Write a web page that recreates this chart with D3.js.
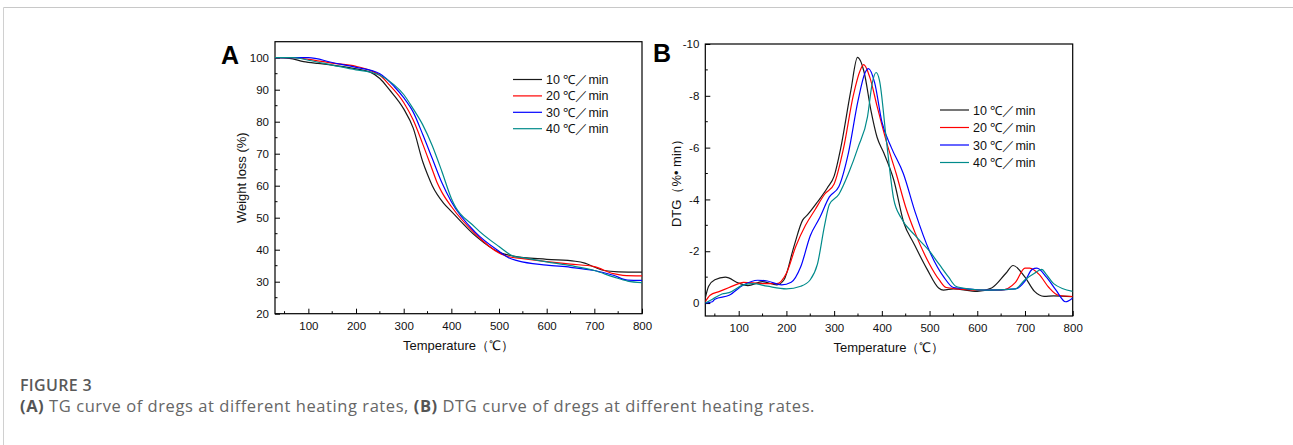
<!DOCTYPE html>
<html><head><meta charset="utf-8">
<script src="https://cdn.jsdelivr.net/npm/d3@7"></script>
<style>
body{margin:0;background:#fff;}
svg{display:block;}
</style></head>
<body>
<svg id="chart" width="1293" height="445"></svg>
<script>
const seriesNames = ["10 ℃／min","20 ℃／min","30 ℃／min","40 ℃／min"];
const seriesColors = ["#1a1a1a","#ff0000","#0000ff","#008b8b"];

// Panel A: TG (weight %) — [temperature, value]
const tg10 = [[30,100],[60,99.8],[90,98.8],[120,98.2],[150,97.7],[200,96.5],[230,95.5],[250,93.5],[270,90],[300,84],[320,78],[340,67.5],[350,63.5],[360,60],[384,54.5],[400,52],[453,44],[500,39.2],[530,38],[600,37],[660,36.4],[680,35.8],[700,34.6],[720,33.5],[750,33.1],[800,33]];
const tg20 = [[30,100],[70,100],[100,99.5],[150,98.3],[200,97.3],[230,96],[250,94.5],[270,91.5],[300,86],[320,80.5],[340,73],[360,65],[370,61],[380,58],[400,53.5],[450,45],[500,39],[520,37.8],[550,37.2],[600,36.3],[650,35.5],[700,34.7],[740,32.5],[760,32],[800,31.8]];
const tg30 = [[30,100],[70,100],[100,100],[150,98.5],[200,97],[250,95],[280,91],[300,87.5],[320,83],[340,76],[360,68.5],[380,61],[400,55],[450,45.5],[500,39.5],[520,37.5],[540,36.5],[600,35.2],[650,34.5],[700,33.5],[740,32],[770,30.5],[800,30.4]];
const tg40 = [[30,100],[70,100],[100,99.2],[150,97.7],[200,96.2],[230,95.5],[250,94.5],[280,91.5],[300,88.5],[320,84],[340,79],[360,72.5],[380,64.5],[400,56],[450,47],[500,41],[530,38],[550,37.5],[600,36.2],[650,35],[700,33.5],[740,31.5],[770,30.2],[800,29.7]];

// Panel B: DTG (%/min) — [temperature, value]
const dtg10 = [[30,-0.2],[37,-0.65],[50,-0.9],[72,-1.0],[100,-0.77],[119,-0.67],[150,-0.83],[180,-0.7],[195,-0.9],[216,-2.2],[234,-3.2],[244,-3.4],[265,-3.9],[286,-4.45],[300,-4.9],[314,-6.0],[335,-8.2],[349,-9.48],[363,-8.9],[377,-7.45],[390,-6.4],[404,-5.8],[425,-4.75],[446,-3.1],[467,-2.3],[495,-1.3],[519,-0.58],[529,-0.5],[550,-0.55],[600,-0.45],[630,-0.58],[660,-1.15],[675,-1.45],[700,-1.0],[720,-0.45],[740,-0.26],[760,-0.28],[800,-0.25]];
const dtg20 = [[30,-0.05],[40,-0.3],[60,-0.45],[80,-0.6],[100,-0.75],[110,-0.8],[150,-0.75],[180,-0.75],[200,-1.15],[220,-2.2],[240,-3.0],[260,-3.6],[280,-4.2],[300,-4.6],[320,-6.0],[340,-8.0],[355,-9.0],[362,-9.2],[375,-8.7],[390,-7.6],[410,-6.2],[430,-5.0],[450,-3.7],[470,-2.7],[500,-1.5],[520,-0.9],[535,-0.6],[560,-0.55],[600,-0.5],[650,-0.5],[680,-0.8],[700,-1.35],[710,-1.35],[730,-1.1],[750,-0.6],[770,-0.3],[800,-0.25]];
const dtg30 = [[30,0],[45,-0.05],[50,-0.15],[80,-0.3],[110,-0.7],[140,-0.88],[160,-0.85],[190,-0.7],[210,-0.8],[230,-1.4],[250,-2.6],[270,-3.3],[290,-4.1],[310,-4.5],[330,-5.8],[350,-7.8],[365,-8.9],[372,-9.05],[385,-8.5],[400,-7.0],[420,-6.0],[445,-5.0],[470,-3.5],[500,-2.0],[530,-1.0],[550,-0.6],[580,-0.55],[620,-0.5],[680,-0.55],[700,-0.85],[715,-1.3],[725,-1.35],[745,-1.0],[765,-0.5],[785,-0.05],[800,-0.2]];
const dtg40 = [[30,0],[45,-0.15],[65,-0.35],[80,-0.4],[110,-0.7],[130,-0.75],[160,-0.65],[200,-0.55],[230,-0.65],[250,-0.9],[265,-1.5],[280,-3.0],[290,-3.8],[310,-4.2],[330,-5.0],[350,-6.0],[370,-7.2],[380,-8.5],[388,-8.9],[395,-8.6],[410,-6.2],[425,-4.0],[440,-3.3],[470,-2.6],[500,-2.0],[520,-1.5],[540,-1.0],[555,-0.65],[580,-0.55],[620,-0.5],[680,-0.55],[700,-0.9],[720,-1.15],[735,-1.3],[745,-1.1],[760,-0.75],[800,-0.45]];

const xTicks = [100,200,300,400,500,600,700,800];
const tgTicks = [20,30,40,50,60,70,80,90,100];
const dtgTicks = [-10,-8,-6,-4,-2,0];

const svg = d3.select("#chart");
const F = "Arial, 'Liberation Sans', sans-serif";

svg.append("line").attr("x1",3.5).attr("x2",1293).attr("y1",7.5).attr("y2",7.5).attr("stroke","#c8c8c8").attr("stroke-width",1);
svg.append("line").attr("x1",3.5).attr("x2",3.5).attr("y1",7.5).attr("y2",445).attr("stroke","#d0d0d0").attr("stroke-width",1);

function panel(opt){
  const g = svg.append("g");
  const x = d3.scaleLinear().domain([30,800]).range([opt.x0,opt.x1]);
  const y = d3.scaleLinear().domain(opt.ydom).range([opt.y1,opt.y0]);
  const xMinor = d3.range(50,800,100);
  g.selectAll(".xm").data(xMinor).join("line").attr("x1",d=>x(d)).attr("x2",d=>x(d))
    .attr("y1",opt.y1).attr("y2",opt.y1-2.5).attr("stroke","#000");
  g.selectAll(".ym").data(opt.yMinor).join("line").attr("y1",d=>y(d)).attr("y2",d=>y(d))
    .attr("x1",opt.x0).attr("x2",opt.x0+2.5).attr("stroke","#000");
  const xa = g.append("g").attr("transform",`translate(0,${opt.y1})`)
    .call(d3.axisBottom(x).tickValues(xTicks).tickSize(-5).tickPadding(8).tickFormat(d3.format("d")));
  const ya = g.append("g").attr("transform",`translate(${opt.x0},0)`)
    .call(d3.axisLeft(y).tickValues(opt.yTicks).tickSize(-5).tickPadding(6).tickFormat(d=>d===0?"0":String(d)));
  [xa,ya].forEach(a=>{a.attr("font-family",F).attr("font-size",11.5);a.select(".domain").remove();a.selectAll("text").attr("font-family",F).attr("font-size",11.5).attr("fill","#111");a.selectAll("line").attr("stroke","#000");});
  g.append("rect").attr("x",opt.x0).attr("y",opt.y0).attr("width",opt.x1-opt.x0).attr("height",opt.y1-opt.y0)
    .attr("fill","none").attr("stroke","#000").attr("stroke-width",1.2);
  const line = d3.line().x(d=>x(d[0])).y(d=>y(d[1])).curve(d3.curveMonotoneX);
  const clipId = "clip"+opt.label;
  g.append("clipPath").attr("id",clipId).append("rect").attr("x",opt.x0).attr("y",opt.y0).attr("width",opt.x1-opt.x0).attr("height",opt.y1-opt.y0);
  opt.series.forEach((s,i)=>{
    g.append("path").attr("d",line(s)).attr("fill","none").attr("stroke",seriesColors[i]).attr("stroke-width",1.2).attr("clip-path",`url(#${clipId})`);
  });
  seriesNames.forEach((n,i)=>{
    const ly = opt.legY + i*opt.legDy;
    g.append("line").attr("x1",opt.legX).attr("x2",opt.legX+29).attr("y1",ly).attr("y2",ly).attr("stroke",seriesColors[i]).attr("stroke-width",1.2);
    g.append("text").attr("x",opt.legX+33).attr("y",ly+4.5).attr("font-family",F).attr("font-size",opt.legFs).attr("fill","#111").text(n);
  });
  g.append("text").attr("x",(opt.x0+opt.x1)/2).attr("y",opt.y1+36).attr("text-anchor","middle").attr("font-family",F).attr("font-size",13).attr("fill","#111").text("Temperature（℃）");
  g.append("text").attr("transform",`translate(${opt.ytX},${(opt.y0+opt.y1)/2}) rotate(-90)`).attr("text-anchor","middle").attr("font-family",F).attr("font-size",13).attr("fill","#111").text(opt.ytitle);
  g.append("text").attr("x",opt.lblX).attr("y",opt.lblY).attr("font-family",F).attr("font-weight","bold").attr("font-size",25).attr("fill","#000").text(opt.label);
}

panel({x0:275,x1:642,y0:41.7,y1:313.7,ydom:[20,105],yTicks:tgTicks,yMinor:d3.range(25,105,10),
  series:[tg10,tg20,tg30,tg40],legX:513,legY:79.5,legDy:16.4,legFs:12.5,
  ytitle:"Weight loss (%)",ytX:246,lblX:221,lblY:64,label:"A"});
panel({x0:705.3,x1:1072.7,y0:44,y1:316,ydom:[0.5,-10],yTicks:dtgTicks,yMinor:[-9,-7,-5,-3,-1],
  series:[dtg10,dtg20,dtg30,dtg40],legX:940,legY:110,legDy:17.5,legFs:12.5,
  ytitle:"DTG（%• min）",ytX:681,lblX:653,lblY:62,label:"B"});

// caption
const fig = svg.append("text").attr("x",20).attr("y",391).attr("font-family","'Open Sans', sans-serif").attr("font-weight","600").attr("font-size",16).attr("fill","#595959").text("FIGURE 3");
const fw = fig.node().getComputedTextLength();
fig.attr("letter-spacing",((72-fw)/8).toFixed(2));
const cap = svg.append("text").attr("x",20).attr("y",412).attr("font-family","'Open Sans', sans-serif").attr("font-size",16.5).attr("fill","#666");
cap.append("tspan").attr("font-weight","bold").attr("fill","#555").text("(A)");
cap.append("tspan").text(" TG curve of dregs at different heating rates, ");
cap.append("tspan").attr("font-weight","bold").attr("fill","#555").text("(B)");
cap.append("tspan").text(" DTG curve of dregs at different heating rates.");
const cw = cap.node().getComputedTextLength();
const nch = cap.text().length;
cap.attr("letter-spacing",((795-cw)/nch).toFixed(3));
</script>
</body></html>
